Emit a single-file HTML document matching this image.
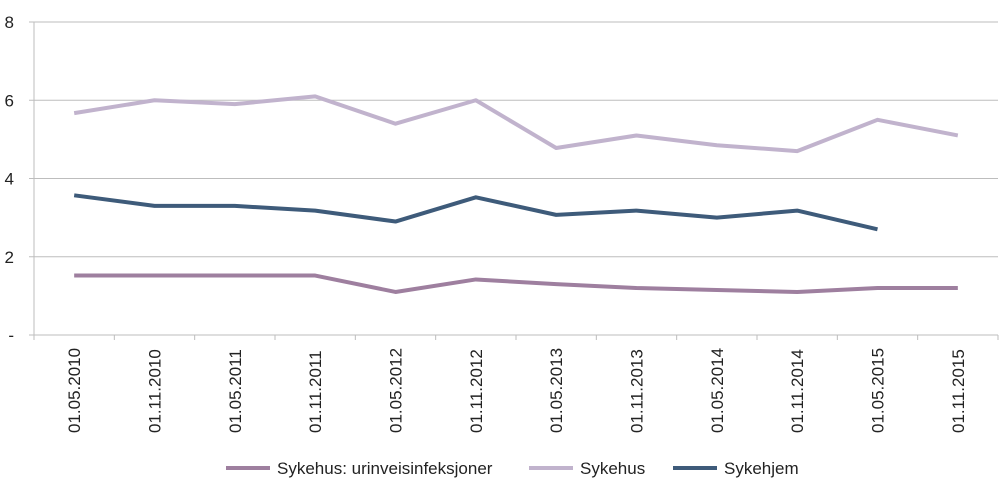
<!DOCTYPE html>
<html><head><meta charset="utf-8"><style>
body{margin:0;background:#fff;font-family:"Liberation Sans",sans-serif;}
svg text{font-family:"Liberation Sans",sans-serif;font-size:17px;fill:#222;}
</style></head><body>
<svg id="chart" width="1000" height="495" xmlns="http://www.w3.org/2000/svg"></svg>
<script>
const categories=["01.05.2010","01.11.2010","01.05.2011","01.11.2011","01.05.2012","01.11.2012","01.05.2013","01.11.2013","01.05.2014","01.11.2014","01.05.2015","01.11.2015"];
const sykehus=[5.67,6.0,5.9,6.1,5.4,6.0,4.78,5.1,4.85,4.7,5.5,5.1];
const sykehjem=[3.57,3.3,3.3,3.18,2.9,3.52,3.07,3.18,3.0,3.18,2.7,null];
const urin=[1.52,1.52,1.52,1.52,1.1,1.42,1.3,1.2,1.15,1.1,1.2,1.2];
const yTicks=[0,2,4,6,8];
const yLabels=["-","2","4","6","8"];
const svg=document.getElementById('chart');
const NS="http://www.w3.org/2000/svg";
const x0=34,x1=998,yTop=22,yBot=335;
const bw=(x1-x0)/categories.length;
const X=i=>x0+bw*(i+0.5);
const Y=v=>yBot-(v/8)*(yBot-yTop);
function el(t,a){const e=document.createElementNS(NS,t);for(const k in a)e.setAttribute(k,a[k]);svg.appendChild(e);return e;}
yTicks.forEach((v,i)=>{
  const g=el('line',{x1:x0-5,x2:x1,y1:Y(v),y2:Y(v),stroke:'#bdbdbd','stroke-width':1});
  
  
  const t=el('text',{x:14,y:Y(v)+6,'text-anchor':'end'});t.textContent=yLabels[i];
  
  
});
const ya=el('line',{x1:x0,x2:x0,y1:yTop,y2:yBot+5,stroke:'#bdbdbd'});


categories.forEach((c,i)=>{
  const tk=el('line',{x1:x0+bw*i,x2:x0+bw*i,y1:yBot,y2:yBot+5,stroke:'#bdbdbd'});
  
  
  const t=el('text',{transform:`translate(${X(i)+6},${433}) rotate(-90)`});t.textContent=c;
  
  
});
const tk=el('line',{x1:x1,x2:x1,y1:yBot,y2:yBot+5,stroke:'#bdbdbd'});


function series(arr,color,name){
  let d='';let pen=false;
  arr.forEach((v,i)=>{if(v==null){pen=false;return;}d+=(pen?'L':'M')+X(i)+' '+Y(v)+' ';pen=true;});
  const p=el('path',{d:d,fill:'none',stroke:color,'stroke-width':4,'stroke-linejoin':'round'});
  
  
}
series(sykehus,'#c1b3cd','series-sykehus');
series(sykehjem,'#3e5b7a','series-sykehjem');
series(urin,'#9e7f9f','series-urinveisinfeksjoner');
const leg=[["Sykehus: urinveisinfeksjoner",'#9e7f9f',226],["Sykehus",'#c1b3cd',529],["Sykehjem",'#3e5b7a',673]];
leg.forEach(l=>{
  const ln=el('line',{x1:l[2],x2:l[2]+44,y1:468,y2:468,stroke:l[1],'stroke-width':4});
  
  
  const t=el('text',{x:l[2]+51,y:474});t.textContent=l[0];
  
  
});
</script>
</body></html>
